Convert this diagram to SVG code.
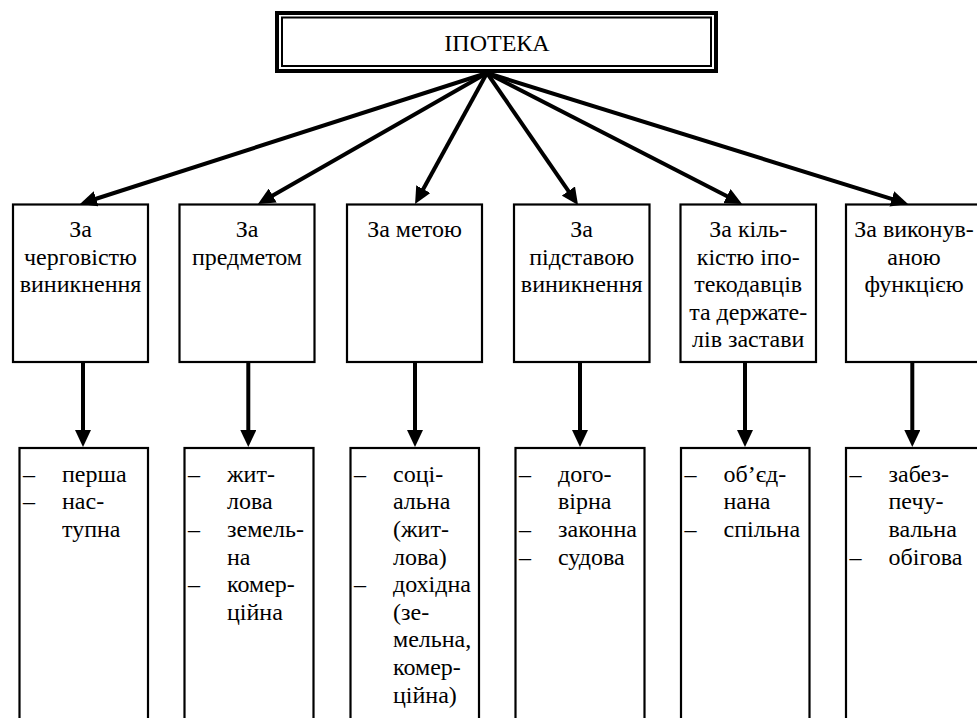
<svg xmlns="http://www.w3.org/2000/svg" width="977" height="718" viewBox="0 0 977 718" font-family="Liberation Serif, serif">
<style>
  .c { text-anchor: middle; }
  .box { fill: #fff; stroke: #000; stroke-width: 2.2; }
  .con { stroke: #000; stroke-width: 4; fill: none; marker-end: url(#ah); }
</style>
<rect width="977" height="718" fill="#fff"/>

<g id="root">
  <rect x="277" y="13" width="439" height="58" fill="#fff" stroke="#000" stroke-width="4"/>
  <rect x="282" y="17.5" width="429" height="48.5" fill="none" stroke="#000" stroke-width="2"/>
  <text class="c" x="497" y="51" font-family="Liberation Serif, serif" font-size="24">ІПОТЕКА</text>
</g>

<g id="c1" font-family="Liberation Serif, serif" font-size="24">
  <rect class="box" x="13" y="204.5" width="135" height="157.5"/>
  <text class="c" x="80.5" y="237">За</text>
  <text class="c" x="80.5" y="264.6">черговістю</text>
  <text class="c" x="80.5" y="292.2">виникнення</text>
</g>
<g id="c2" font-family="Liberation Serif, serif" font-size="24">
  <rect class="box" x="179.5" y="204.5" width="135" height="157.5"/>
  <text class="c" x="247" y="237">За</text>
  <text class="c" x="247" y="264.6">предметом</text>
</g>
<g id="c3" font-family="Liberation Serif, serif" font-size="24">
  <rect class="box" x="347" y="204.5" width="135" height="157.5"/>
  <text class="c" x="414.5" y="237">За метою</text>
</g>
<g id="c4" font-family="Liberation Serif, serif" font-size="24">
  <rect class="box" x="514" y="204.5" width="135.5" height="157.5"/>
  <text class="c" x="581.7" y="237">За</text>
  <text class="c" x="581.7" y="264.6">підставою</text>
  <text class="c" x="581.7" y="292.2">виникнення</text>
</g>
<g id="c5" font-family="Liberation Serif, serif" font-size="24">
  <rect class="box" x="680.5" y="204.5" width="135.5" height="157.5"/>
  <text class="c" x="748.2" y="237">За кіль-</text>
  <text class="c" x="748.2" y="264.6">кістю іпо-</text>
  <text class="c" x="748.2" y="292.2">текодавців</text>
  <text class="c" x="748.2" y="319.8">та держате-</text>
  <text class="c" x="748.2" y="347.4">лів застави</text>
</g>
<g id="c6" font-family="Liberation Serif, serif" font-size="24">
  <rect class="box" x="846" y="204.5" width="135" height="157.5"/>
  <text class="c" x="914" y="237">За виконув-</text>
  <text class="c" x="914" y="264.6">аною</text>
  <text class="c" x="914" y="292.2">функцією</text>
</g>

<g id="l1" font-family="Liberation Serif, serif" font-size="24">
  <rect class="box" x="19.5" y="448" width="128.5" height="290"/>
  <text x="23" y="481.7">–</text><text x="62" y="481.7">перша</text>
  <text x="23" y="509.3">–</text><text x="62" y="509.3">нас-</text>
  <text x="62" y="536.9">тупна</text>
</g>
<g id="l2" font-family="Liberation Serif, serif" font-size="24">
  <rect class="box" x="184.5" y="448" width="129" height="290"/>
  <text x="188" y="481.7">–</text><text x="227" y="481.7">жит-</text>
  <text x="227" y="509.3">лова</text>
  <text x="188" y="536.9">–</text><text x="227" y="536.9">земель-</text>
  <text x="227" y="564.5">на</text>
  <text x="188" y="592.1">–</text><text x="227" y="592.1">комер-</text>
  <text x="227" y="619.7">ційна</text>
</g>
<g id="l3" font-family="Liberation Serif, serif" font-size="24">
  <rect class="box" x="350.5" y="448" width="128.5" height="290"/>
  <text x="354" y="481.7">–</text><text x="393" y="481.7">соці-</text>
  <text x="393" y="509.3">альна</text>
  <text x="393" y="536.9">(жит-</text>
  <text x="393" y="564.5">лова)</text>
  <text x="354" y="592.1">–</text><text x="393" y="592.1">дохідна</text>
  <text x="393" y="619.7">(зе-</text>
  <text x="393" y="647.3">мельна,</text>
  <text x="393" y="674.9">комер-</text>
  <text x="393" y="702.5">ційна)</text>
</g>
<g id="l4" font-family="Liberation Serif, serif" font-size="24">
  <rect class="box" x="515.5" y="448" width="129" height="290"/>
  <text x="519" y="481.7">–</text><text x="558" y="481.7">дого-</text>
  <text x="558" y="509.3">вірна</text>
  <text x="519" y="536.9">–</text><text x="558" y="536.9">законна</text>
  <text x="519" y="564.5">–</text><text x="558" y="564.5">судова</text>
</g>
<g id="l5" font-family="Liberation Serif, serif" font-size="24">
  <rect class="box" x="681" y="448" width="128.5" height="290"/>
  <text x="684.5" y="481.7">–</text><text x="723.5" y="481.7">об’єд-</text>
  <text x="723.5" y="509.3">нана</text>
  <text x="684.5" y="536.9">–</text><text x="723.5" y="536.9">спільна</text>
</g>
<g id="l6" font-family="Liberation Serif, serif" font-size="24">
  <rect class="box" x="846" y="448" width="135" height="290"/>
  <text x="849.5" y="481.7">–</text><text x="888.5" y="481.7">забез-</text>
  <text x="888.5" y="509.3">печу-</text>
  <text x="888.5" y="536.9">вальна</text>
  <text x="849.5" y="564.5">–</text><text x="888.5" y="564.5">обігова</text>
</g>

<defs>
  <marker id="ah" markerUnits="userSpaceOnUse" viewBox="0 0 17 16" refX="9" refY="8" markerWidth="17" markerHeight="16" orient="auto">
    <path d="M0,0 L17,8 L0,16 z" fill="#000"/>
  </marker>
</defs>
<g id="connectors">
  <line class="con" x1="487" y1="73" x2="87.6" y2="201.5"/>
  <line class="con" x1="487" y1="73" x2="264.9" y2="200"/>
  <line class="con" x1="487" y1="73" x2="418.9" y2="197"/>
  <line class="con" x1="487" y1="73" x2="573.5" y2="198.4"/>
  <line class="con" x1="487" y1="73" x2="734.9" y2="200.3"/>
  <line class="con" x1="487" y1="73" x2="900.4" y2="201.6"/>
  <line class="con" x1="83" y1="363" x2="83" y2="439"/>
  <line class="con" x1="248.3" y1="363" x2="248.3" y2="439"/>
  <line class="con" x1="415" y1="363" x2="415" y2="439"/>
  <line class="con" x1="580" y1="363" x2="580" y2="439"/>
  <line class="con" x1="745" y1="363" x2="745" y2="439"/>
  <line class="con" x1="912.3" y1="363" x2="912.3" y2="439"/>
</g>
</svg>
